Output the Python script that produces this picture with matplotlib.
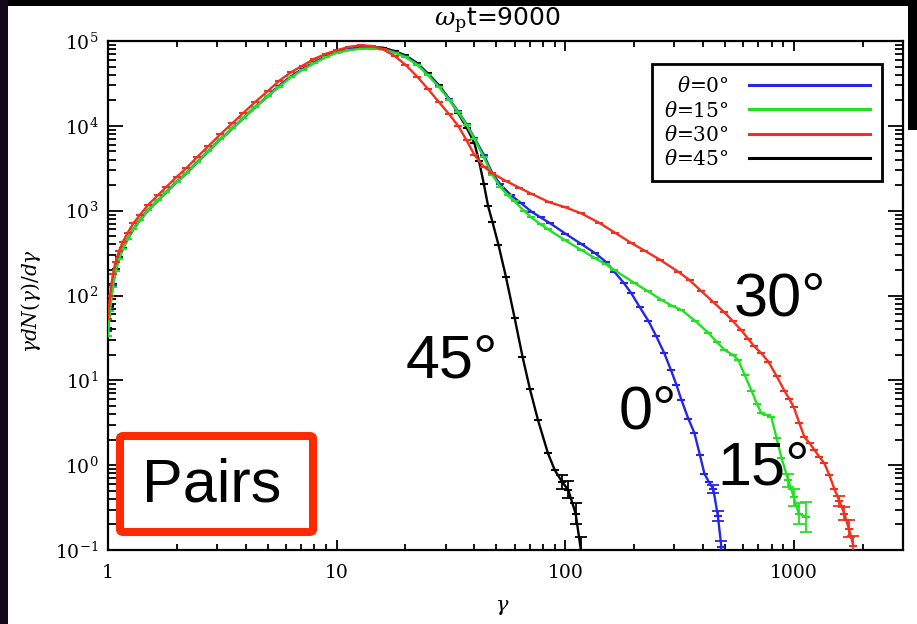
import numpy as np
import matplotlib
matplotlib.use("Agg")
import matplotlib.pyplot as plt
from matplotlib.patches import Rectangle, FancyBboxPatch
from matplotlib.lines import Line2D

plt.rcParams['mathtext.fontset'] = 'dejavuserif'
plt.rcParams['font.family'] = ['DejaVu Serif']

# ---------------- data ----------------
red_gamma = [1.0, 1.02, 1.05, 1.08, 1.12, 1.16, 1.22, 1.29, 1.38, 1.5, 1.65, 1.8, 2.0, 2.2, 2.45, 2.75,
             3.1, 3.5, 3.9, 4.4, 5.0, 5.6, 6.3, 7.1, 8.0, 9.0, 10, 11.3, 12.8, 14.3, 16, 18, 20, 22.5,
             25, 28, 31, 34, 37, 40, 44, 48, 55, 63, 71, 85, 100, 117, 140, 165, 194, 222, 260, 312,
             350, 394, 445, 497, 540, 589, 630, 671, 720, 773, 840, 908, 955, 1000, 1055, 1112, 1170,
             1230, 1290, 1360, 1430, 1503, 1580, 1660, 1740, 1820]
red_log10 = [1.72, 2.00, 2.25, 2.40, 2.53, 2.63, 2.74, 2.85, 2.95, 3.07, 3.18, 3.28, 3.40, 3.50, 3.63, 3.76,
             3.90, 4.03, 4.15, 4.28, 4.41, 4.53, 4.63, 4.71, 4.79, 4.85, 4.89, 4.93, 4.95, 4.94, 4.90, 4.82,
             4.72, 4.58, 4.44, 4.28, 4.14, 4.00, 3.83, 3.66, 3.52, 3.44, 3.35, 3.27, 3.20, 3.10, 3.04, 2.97,
             2.86, 2.74, 2.62, 2.53, 2.42, 2.28, 2.18, 2.05, 1.92, 1.80, 1.70, 1.59, 1.49, 1.40, 1.32, 1.22,
             1.05, 0.88, 0.78, 0.68, 0.50, 0.33, 0.26, 0.18, 0.10, 0.02, -0.12, -0.28, -0.42, -0.57, -0.75, -0.95]

blue_gamma = [1.0, 1.02, 1.05, 1.08, 1.12, 1.16, 1.22, 1.29, 1.38, 1.5, 1.65, 1.8, 2.0, 2.2, 2.45, 2.75,
              3.1, 3.5, 3.9, 4.4, 5.0, 5.6, 6.3, 7.1, 8.0, 9.0, 10, 11.3, 12.8, 14.3, 16, 18, 20, 22.5,
              25, 28, 31, 34, 37, 40, 44, 48, 52, 58, 64, 71, 78, 86, 100, 117, 135, 150, 164, 180, 194,
              212, 231, 250, 271, 290, 306, 322, 345, 367, 388, 406, 425, 444, 465, 482]
blue_log10 = [1.58, 1.85, 2.12, 2.30, 2.44, 2.55, 2.67, 2.78, 2.89, 3.01, 3.12, 3.22, 3.34, 3.44, 3.57, 3.70,
              3.84, 3.97, 4.09, 4.22, 4.35, 4.47, 4.58, 4.67, 4.75, 4.82, 4.87, 4.91, 4.93, 4.93, 4.91, 4.87,
              4.82, 4.73, 4.61, 4.47, 4.32, 4.17, 4.02, 3.86, 3.66, 3.44, 3.31, 3.18, 3.09, 2.99, 2.92, 2.85,
              2.73, 2.61, 2.50, 2.40, 2.28, 2.15, 2.03, 1.86, 1.70, 1.52, 1.32, 1.12, 0.95, 0.77, 0.55, 0.38,
              0.12, -0.10, -0.20, -0.28, -0.60, -0.97]

green_gamma = [1.0, 1.02, 1.05, 1.08, 1.12, 1.16, 1.22, 1.29, 1.38, 1.5, 1.65, 1.8, 2.0, 2.2, 2.45, 2.75,
               3.1, 3.5, 3.9, 4.4, 5.0, 5.6, 6.3, 7.1, 8.0, 9.0, 10, 11.3, 12.8, 14.3, 16, 18, 20, 22.5,
               25, 28, 31, 34, 37, 40, 44, 48, 52, 56, 60, 66, 71, 78, 84, 100, 117, 135, 150, 164, 200,
               230, 263, 292, 322, 370, 423, 460, 497, 540, 571, 610, 652, 690, 721, 760, 796, 840, 881,
               946, 1000, 1050, 1135]
green_log10 = [1.52, 1.82, 2.10, 2.29, 2.43, 2.55, 2.67, 2.78, 2.89, 3.01, 3.12, 3.22, 3.34, 3.44, 3.57, 3.70,
               3.84, 3.97, 4.09, 4.22, 4.35, 4.46, 4.57, 4.66, 4.74, 4.81, 4.86, 4.89, 4.91, 4.91, 4.90, 4.86,
               4.81, 4.72, 4.60, 4.46, 4.31, 4.16, 4.01, 3.85, 3.63, 3.42, 3.28, 3.18, 3.11, 3.00, 2.92, 2.84,
               2.78, 2.65, 2.54, 2.44, 2.37, 2.30, 2.15, 2.05, 1.95, 1.88, 1.83, 1.70, 1.56, 1.45, 1.36, 1.30,
               1.24, 1.06, 0.88, 0.72, 0.61, 0.59, 0.57, 0.32, 0.09, -0.18, -0.38, -0.57, -0.61]

black_gamma = [1.0, 1.02, 1.05, 1.08, 1.12, 1.16, 1.22, 1.29, 1.38, 1.5, 1.65, 1.8, 2.0, 2.2, 2.45, 2.75,
               3.1, 3.5, 3.9, 4.4, 5.0, 5.6, 6.3, 7.1, 8.0, 9.0, 10, 11.3, 12.8, 14.3, 16, 18, 20, 22.5,
               25, 28, 31, 34, 37, 40, 42, 44, 46, 48, 51, 55, 60, 65, 70, 76, 84, 90, 97, 103, 111, 117]
black_log10 = [1.62, 1.88, 2.14, 2.31, 2.45, 2.56, 2.67, 2.78, 2.89, 3.01, 3.12, 3.22, 3.34, 3.44, 3.57, 3.70,
               3.84, 3.97, 4.09, 4.22, 4.35, 4.47, 4.58, 4.67, 4.75, 4.82, 4.87, 4.91, 4.93, 4.93, 4.92, 4.88,
               4.83, 4.74, 4.62, 4.48, 4.32, 4.15, 3.98, 3.80, 3.58, 3.32, 3.05, 2.87, 2.60, 2.22, 1.74, 1.28,
               0.90, 0.53, 0.14, -0.06, -0.20, -0.29, -0.57, -1.00]

# error bars (in dex) on the last points of each curve
blue_tail_err = [0.05, 0.06, 0.08]
green_tail_err = [0.08, 0.10, 0.12, 0.18]
red_tail_err = [0.06, 0.08, 0.10, 0.12]
black_tail_err = [0.08, 0.10, 0.12, 0.15]

labels = [r'$\theta$=0°', r'$\theta$=15°', r'$\theta$=30°', r'$\theta$=45°']
colors = ['#2626e6', '#22e022', '#f2301e', '#000000']

x_ticks = [1, 10, 100, 1000]
x_ticklabels = ['1', '10', '100', '1000']
y_ticks = [1e-1, 1e0, 1e1, 1e2, 1e3, 1e4, 1e5]
y_ticklabels = [r'$10^{-1}$', r'$10^{0}$', r'$10^{1}$', r'$10^{2}$', r'$10^{3}$', r'$10^{4}$', r'$10^{5}$']

# ---------------- figure ----------------
W, H = 917, 624
fig = plt.figure(figsize=(W / 100, H / 100), dpi=100)
fig.patch.set_facecolor('white')

# dark frame pieces of the screenshot
fig.patches.append(Rectangle((0, 1 - 6 / H), 1, 6 / H, transform=fig.transFigure,
                             facecolor='black', edgecolor='none', zorder=0))
fig.patches.append(Rectangle((0, 0), 8 / W, 1, transform=fig.transFigure,
                             facecolor='#14061a', edgecolor='none', zorder=0))
fig.patches.append(Rectangle((1 - 9 / W, 1 - 130 / H), 9 / W, 130 / H, transform=fig.transFigure,
                             facecolor='black', edgecolor='none', zorder=0))

ax_l, ax_r, ax_t, ax_b = 108, 903, 41, 550
ax = fig.add_axes([ax_l / W, 1 - ax_b / H, (ax_r - ax_l) / W, (ax_b - ax_t) / H])

series = [
    (blue_gamma, blue_log10, blue_tail_err),
    (green_gamma, green_log10, green_tail_err),
    (red_gamma, red_log10, red_tail_err),
    (black_gamma, black_log10, black_tail_err),
]
zorders = [3, 4, 5, 2]
handles = []
for (g, ly, terr), c, lab, z in zip(series, colors, labels, zorders):
    g = np.asarray(g, float)
    y = np.power(10.0, np.asarray(ly, float))
    ax.plot(g, y, color=c, lw=1.7, marker='_', ms=6, mew=1.5, zorder=z)
    n = len(terr)
    e = np.asarray(terr, float)
    yt = y[-n:]
    ax.errorbar(g[-n:], yt, yerr=[yt - yt * 10 ** (-e), yt * 10 ** e - yt], fmt='none',
                ecolor=c, elinewidth=1.3, capsize=4, capthick=1.3, zorder=z)
    handles.append(Line2D([], [], color=c, lw=2.2))

ax.set_xscale('log')
ax.set_yscale('log')
ax.set_xlim(1, 3000)
ax.set_ylim(1e-1, 1e5)
ax.set_xticks(x_ticks)
ax.set_xticklabels(x_ticklabels)
ax.set_yticks(y_ticks)
ax.set_yticklabels(y_ticklabels)

for s in ax.spines.values():
    s.set_linewidth(1.6)
ax.tick_params(which='both', direction='in', top=True, right=True, width=1.3)
ax.tick_params(axis='x', which='major', length=7.5, labelsize=13.5, pad=10)
ax.tick_params(axis='x', which='minor', length=4)
ax.tick_params(axis='y', which='major', length=10.5, labelsize=13.5, pad=7)
ax.tick_params(axis='y', which='minor', length=5.5)

fig.text(497 / W, 1 - 26 / H, r'$\omega_{\rm p}$t=9000', fontsize=18, family='DejaVu Sans',
         ha='center', va='baseline')
ax.set_ylabel(r'$\gamma dN(\gamma)/d\gamma$', fontsize=14.5)
ax.yaxis.set_label_coords(-0.082, 0.49)
ax.set_xlabel(r'$\gamma$', fontsize=15)
ax.xaxis.set_label_coords(0.496, -0.095)

leg = ax.legend(handles, labels, loc='upper right',
                bbox_to_anchor=((882 - ax_l) / (ax_r - ax_l), 1 - (64 - ax_t) / (ax_b - ax_t)),
                borderaxespad=0, markerfirst=False, handlelength=6.0, fontsize=14.5,
                fancybox=False, framealpha=1, edgecolor='black', labelspacing=0.22,
                borderpad=0.6, handletextpad=1.0)
leg.get_frame().set_linewidth(2.0)

# big curve annotations
sans = 'Liberation Sans'
fig.text(452 / W, 1 - 362 / H, '45°', fontsize=44, family=sans, ha='center', va='center')
fig.text(648 / W, 1 - 413 / H, '0°', fontsize=44, family=sans, ha='center', va='center')
fig.text(764 / W, 1 - 469 / H, '15°', fontsize=44, family=sans, ha='center', va='center')
fig.text(780 / W, 1 - 300 / H, '30°', fontsize=44, family=sans, ha='center', va='center')

# "Pairs" box
bx0, bx1, by0, by1 = 120, 313, 436, 532
fig.patches.append(FancyBboxPatch((bx0 / W, 1 - by1 / H), (bx1 - bx0) / W, (by1 - by0) / H,
                                  boxstyle='round,pad=0,rounding_size=0.004',
                                  transform=fig.transFigure, facecolor='white',
                                  edgecolor='#ff2a00', linewidth=5.8, zorder=10))
fig.text(212 / W, 1 - 486 / H, 'Pairs', fontsize=44, family=sans, ha='center', va='center',
         zorder=11)

fig.savefig('out.png', dpi=100, facecolor=fig.get_facecolor())
